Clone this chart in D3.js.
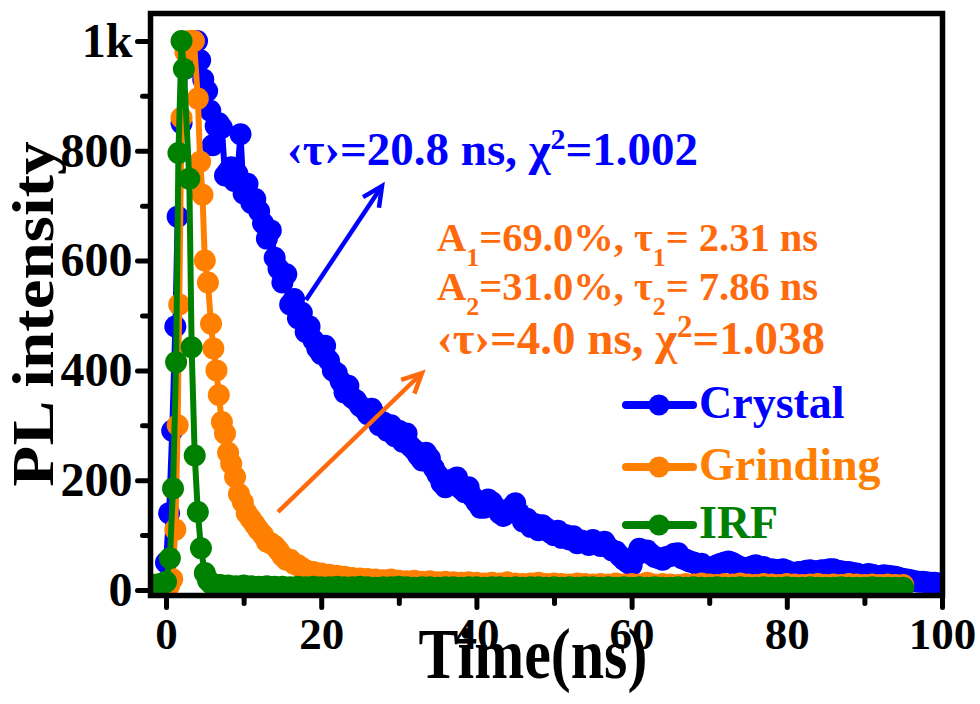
<!DOCTYPE html>
<html>
<head>
<meta charset="utf-8">
<script src="https://cdn.jsdelivr.net/npm/d3@7"></script>
<style>
  body { margin: 0; background: #fff; }
  svg text { font-family: "Liberation Serif", "Times New Roman", serif; font-weight: bold; }
</style>
</head>
<body>
<script>
  //DATA
  var crystalTime = [-1.6, -1.2, -0.8, -0.4, 0, 0.4, 0.8, 1.2, 1.5, 2.0, 2.5, 3.0, 3.5, 4.0, 4.4, 4.8, 5.3, 5.7, 6.0, 6.4,
      6.8, 7.2, 7.6, 8.0, 8.4, 8.8, 9.2, 9.6,
      10, 10.5, 11, 11.5, 12, 12.5, 13, 13.5, 14, 14.5, 15, 15.5, 16, 16.5, 17, 17.5, 18, 18.5, 19, 19.5,
      20, 20.5, 21, 21.5, 22, 22.5, 23, 23.5, 24, 24.5, 25, 25.5, 26, 26.5, 27, 27.5, 28, 28.5, 29, 29.5,
      30, 30.5, 31, 31.5, 32, 32.5, 33, 33.5, 34, 34.5, 35, 35.5, 36, 36.5, 37, 37.5, 38, 38.5, 39, 39.5,
      40, 40.5, 41, 41.5, 42, 42.5, 43, 43.5, 44, 44.5, 45, 45.5, 46, 46.5, 47, 47.5, 48, 48.5, 49, 49.5,
      50, 50.5, 51, 51.5, 52, 52.5, 53, 53.5, 54, 54.5, 55, 55.5, 56, 56.5, 57, 57.5, 58, 58.5, 59, 59.5,
      60, 60.5, 61, 61.5, 62, 62.5, 63, 63.5, 64, 64.5, 65, 65.5, 66, 66.5, 67, 67.5, 68, 68.5, 69, 69.5,
      70, 70.5, 71, 71.5, 72, 72.5, 73, 73.5, 74, 74.5, 75, 75.5, 76, 76.5, 77, 77.5, 78, 78.5, 79, 79.5,
      80, 80.5, 81, 81.5, 82, 82.5, 83, 83.5, 84, 84.5, 85, 85.5, 86, 86.5, 87, 87.5, 88, 88.5, 89, 89.5,
      90, 90.5, 91, 91.5, 92, 92.5, 93, 93.5, 94, 94.5, 95, 95.5, 96, 96.5, 97, 97.5, 98, 98.5, 99, 99.5, 100];
  var crystalPL = [3, 3, 5, 12, 50, 140, 290, 480, 680, 850, 950, 990, 1000, 1000, 965, 930, 909, 873, 810, 845,
      850, 842, 755, 762, 770, 745, 758, 830,
      722, 740, 705, 712, 690, 668, 640, 655, 605, 585, 560, 575, 520, 530, 495, 505, 470, 480, 455, 440,
      430, 445, 418, 400, 395, 380, 360, 372, 350, 345, 335, 330, 320, 330, 318, 300, 305, 290, 300, 280,
      290, 270, 285, 262, 255, 245, 236, 250, 240, 222, 210, 195, 187, 200, 195, 205, 185, 178, 187, 170,
      160, 150, 150, 165, 160, 150, 140, 135, 145, 150, 158, 140, 125, 130, 115, 120, 109, 118, 112, 105,
      100, 108, 95, 100, 92, 98, 85, 90, 88, 82, 91, 85, 80, 88, 78, 72, 70, 62, 55, 50,
      45, 62, 75, 70, 72, 65, 60, 58, 55, 60, 62, 66, 67, 58, 55, 52, 50, 46, 48, 42,
      38, 42, 45, 48, 50, 52, 49, 45, 42, 40, 40, 43, 45, 40, 42, 38, 38, 37, 36, 38,
      35, 32, 30, 33, 33, 35, 36, 34, 34, 36, 36, 38, 38, 35, 34, 33, 33, 31, 30, 28,
      27, 29, 28, 26, 25, 27, 26, 25, 24, 22, 20, 19, 18, 16, 15, 15, 14, 13, 13, 12, 12];

  var grindTime = [-2, -1.6, -1.2, -0.8, -0.4, 0, 0.4, 0.8, 1.2, 1.5, 1.7, 2.0, 2.5, 3.0, 3.6, 4.1, 4.4, 4.7, 5.0, 5.4,
      5.8, 6.1, 6.5, 6.8, 7.2, 7.6, 8.0, 8.4, 8.9, 9.4, 9.9, 10.4, 10.9, 11.4, 11.9, 12.5, 13.0, 13.5, 14.0, 14.5,
      15.0, 15.5, 16.0, 16.5, 17.0, 17.5, 18, 19, 20,
      21, 22, 23, 24, 25, 26, 27, 28, 29, 30, 31, 32, 33, 34, 35, 36, 37, 38, 39, 40,
      41, 42, 43, 44, 45, 46, 47, 48, 49, 50, 51, 52, 53, 54, 55, 56, 57, 58, 59, 60,
      61, 62, 63, 64, 65, 66, 67, 68, 69, 70, 71, 72, 73, 74, 75, 76, 77, 78, 79, 80,
      81, 82, 83, 84, 85, 86, 87, 88, 89, 90, 91, 92, 93, 94, 95];
  var grindPL = [3, 3, 4, 4, 5, 5, 8, 20, 110, 300, 520, 860, 980, 1000, 1000, 895, 780, 720, 600, 560,
      485, 440, 400, 355, 306, 285, 250, 230, 206, 175, 160, 140, 130, 120, 110, 100, 88, 85, 80, 72,
      62, 55, 55, 48, 45, 40, 36, 33, 30,
      28, 26, 24, 22, 21, 20, 19, 18, 19, 17, 16, 17, 15, 16, 14, 15, 14, 13, 14, 13,
      12, 13, 12, 14, 12, 11, 12, 13, 11, 12, 11, 10, 12, 11, 10, 11, 10, 12, 10, 11,
      10, 13, 10, 11, 10, 9, 11, 10, 12, 10, 9, 11, 10, 12, 10, 9, 11, 10, 9, 11,
      10, 9, 10, 11, 9, 10, 9, 11, 10, 9, 10, 9, 10, 9, 9];

  var irfTime = [-2, -1.6, -1.2, -0.8, -0.4, 0, 0.5, 0.9, 1.3, 1.6, 2.0, 2.3, 3.0, 3.3, 3.7, 4.1, 4.5, 5.0, 5.4, 5.8,
      6.2, 6.6, 7, 8, 9, 10, 11, 12, 13, 14, 15, 16, 17, 18, 19, 20,
      21, 22, 23, 24, 25, 26, 27, 28, 29, 30, 31, 32, 33, 34, 35, 36, 37, 38, 39, 40,
      41, 42, 43, 44, 45, 46, 47, 48, 49, 50, 51, 52, 53, 54, 55, 56, 57, 58, 59, 60,
      61, 62, 63, 64, 65, 66, 67, 68, 69, 70, 71, 72, 73, 74, 75, 76, 77, 78, 79, 80,
      81, 82, 83, 84, 85, 86, 87, 88, 89, 90, 91, 92, 93, 94, 95];
  var irfPL = [5, 8, 10, 10, 12, 15, 58, 185, 415, 796, 1000, 949, 749, 442, 245, 142, 76, 31, 18, 12,
      10, 9, 9, 8, 7, 8, 7, 6, 7, 6, 6, 5, 6, 5, 6, 5,
      5, 6, 5, 5, 6, 5, 4, 5, 5, 6, 5, 4, 5, 5, 4, 5, 5, 4, 5, 5,
      4, 5, 5, 4, 5, 4, 5, 5, 4, 5, 4, 5, 4, 5, 5, 4, 5, 4, 5, 4,
      5, 4, 5, 4, 4, 5, 4, 5, 4, 4, 5, 4, 4, 5, 4, 4, 5, 4, 4, 5,
      4, 4, 5, 4, 4, 4, 5, 4, 4, 4, 5, 4, 4, 4, 4];

  var seriesNames = ["Crystal", "Grinding", "IRF"];
  var seriesColors = ["#0000ff", "#ff8000", "#008000"];

  var xTicks = [0, 20, 40, 60, 80, 100];
  var xMinor = [10, 30, 50, 70, 90];
  var yTicks = [0, 200, 400, 600, 800, 1000];
  var yTickLabels = ["0", "200", "400", "600", "800", "1k"];
  var yMinor = [100, 300, 500, 700, 900];

  var w = 980; //svg width
  var h = 704; //svg height
  var frameL = 150.5, frameR = 942.5, frameT = 13.5, frameB = 595.5; //plot frame

  var svg = d3.select("body").append("svg")
      .attr("width", w)
      .attr("height", h);

  //SCALES
  var x = d3.scaleLinear().domain([-2, 100]).range([frameL, frameR - 0.5]);
  var y = d3.scaleLinear().domain([-10, 1050]).range([frameB, frameT]);

  svg.append("clipPath").attr("id", "plotClip")
      .append("rect")
      .attr("x", frameL).attr("y", frameT)
      .attr("width", frameR - frameL).attr("height", frameB - frameT);

  //SERIES
  var series = [
      { name: seriesNames[0], color: seriesColors[0], t: crystalTime, v: crystalPL },
      { name: seriesNames[1], color: seriesColors[1], t: grindTime, v: grindPL },
      { name: seriesNames[2], color: seriesColors[2], t: irfTime, v: irfPL }
  ];

  var line = d3.line()
      .x(function(d) { return x(d[0]); })
      .y(function(d) { return y(d[1]); });

  var plot = svg.append("g").attr("clip-path", "url(#plotClip)");

  series.forEach(function(s) {
      var pts = s.t.map(function(t, i) { return [t, s.v[i]]; });
      var g = plot.append("g");
      g.append("path")
          .datum(pts)
          .attr("d", line)
          .attr("fill", "none")
          .attr("stroke", s.color)
          .attr("stroke-width", 6)
          .attr("stroke-linejoin", "round");
      g.selectAll("circle")
          .data(pts)
          .enter()
          .append("circle")
          .attr("cx", function(d) { return x(d[0]); })
          .attr("cy", function(d) { return y(d[1]); })
          .attr("r", 11)
          .attr("fill", s.color);
  });

  //AXES
  var tickStyle = function(size) {
      return function(g) {
          g.attr("font-family", null);
          g.select(".domain").remove();
          g.selectAll(".tick line").attr("stroke", "#000").attr("stroke-width", 5).attr("stroke-linecap", "round");
          g.selectAll(".tick text").attr("fill", "#000").style("font-size", size + "px");
      };
  };

  svg.append("g")
      .attr("transform", "translate(0," + frameB + ")")
      .call(d3.axisBottom(x).tickValues(xTicks).tickSize(12).tickPadding(10).tickFormat(d3.format("d")))
      .call(tickStyle(45));

  svg.append("g")
      .attr("transform", "translate(0," + frameB + ")")
      .call(d3.axisBottom(x).tickValues(xMinor).tickSize(8).tickFormat(""))
      .call(tickStyle(45));

  svg.append("g")
      .attr("transform", "translate(" + frameL + ",0)")
      .call(d3.axisLeft(y).tickValues(yTicks).tickSize(13).tickPadding(5)
          .tickFormat(function(d, i) { return yTickLabels[i]; }))
      .call(tickStyle(48));

  svg.append("g")
      .attr("transform", "translate(" + frameL + ",0)")
      .call(d3.axisLeft(y).tickValues(yMinor).tickSize(8).tickFormat(""))
      .call(tickStyle(48));

  //FRAME
  svg.append("rect")
      .attr("x", frameL).attr("y", frameT)
      .attr("width", frameR - frameL).attr("height", frameB - frameT)
      .attr("fill", "none")
      .attr("stroke", "#000")
      .attr("stroke-width", 5.5);

  //AXIS TITLES
  svg.append("text")
      .attr("transform", "translate(533,678) scale(1,1.2)")
      .attr("text-anchor", "middle")
      .style("font-size", "60px")
      .text("Time(ns)");

  svg.append("text")
      .attr("transform", "translate(53,314) rotate(-90) scale(1.12,1)")
      .attr("text-anchor", "middle")
      .style("font-size", "60px")
      .text("PL intensity");

  //LEGEND
  var legend = svg.append("g");
  var legendY = [405, 467, 525];
  series.forEach(function(s, i) {
      legend.append("line")
          .attr("x1", 626).attr("x2", 693)
          .attr("y1", legendY[i]).attr("y2", legendY[i])
          .attr("stroke", s.color).attr("stroke-width", 8).attr("stroke-linecap", "round");
      legend.append("circle")
          .attr("cx", 659).attr("cy", legendY[i]).attr("r", 10.5)
          .attr("fill", s.color);
      legend.append("text")
          .attr("x", 699).attr("y", legendY[i] + 13)
          .attr("fill", s.color)
          .style("font-size", "46px")
          .text(s.name);
  });

  //ANNOTATIONS
  var blueText = svg.append("text")
      .attr("x", 287).attr("y", 165)
      .attr("fill", "#0000ff")
      .style("font-size", "47px");
  blueText.append("tspan").text("\u2039\u03c4\u203a=20.8 ns, \u03c7");
  blueText.append("tspan").attr("baseline-shift", "super").style("font-size", "30px").text("2");
  blueText.append("tspan").text("=1.002");

  var orange = "#ff6a0d";
  var lines = [
      [["A", 0], ["1", -1], ["=69.0%, \u03c4", 0], ["1", -1], ["= 2.31 ns", 0]],
      [["A", 0], ["2", -1], ["=31.0%, \u03c4", 0], ["2", -1], ["= 7.86 ns", 0]],
      [["\u2039\u03c4\u203a=4.0 ns, \u03c7", 0], ["2", 1], ["=1.038", 0]]
  ];
  var lineY = [251, 300, 354];
  var lineSize = [40.5, 40.5, 47];
  lines.forEach(function(parts, i) {
      var t = svg.append("text")
          .attr("x", 437).attr("y", lineY[i])
          .attr("fill", orange)
          .style("font-size", lineSize[i] + "px");
      parts.forEach(function(p) {
          var span = t.append("tspan").text(p[0]);
          if (p[1] !== 0) {
              span.attr("baseline-shift", p[1] < 0 ? "sub" : "super")
                  .style("font-size", Math.round(lineSize[i] * 0.65) + "px");
          }
      });
  });

  //ARROWS
  function arrow(x1, y1, x2, y2, color) {
      var ang = Math.atan2(y2 - y1, x2 - x1);
      var hl = 22, ha = 0.45;
      svg.append("line")
          .attr("x1", x1).attr("y1", y1).attr("x2", x2).attr("y2", y2)
          .attr("stroke", color).attr("stroke-width", 4.5);
      svg.append("path")
          .attr("d", "M" + (x2 - hl * Math.cos(ang - ha)) + "," + (y2 - hl * Math.sin(ang - ha)) +
              "L" + x2 + "," + y2 +
              "L" + (x2 - hl * Math.cos(ang + ha)) + "," + (y2 - hl * Math.sin(ang + ha)))
          .attr("fill", "none")
          .attr("stroke", color).attr("stroke-width", 4.5)
          .attr("stroke-linejoin", "miter");
  }
  arrow(306, 300, 382, 186, "#0000ff");
  arrow(278, 512, 422, 373, orange);
</script>
</body>
</html>
